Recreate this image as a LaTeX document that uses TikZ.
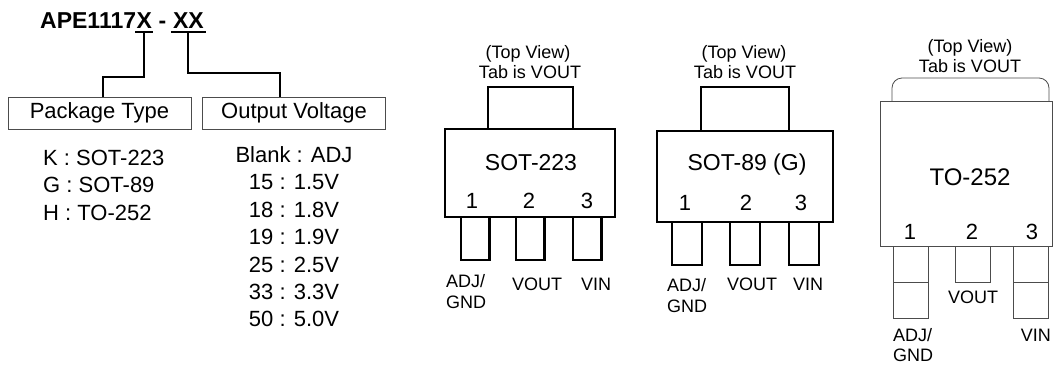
\documentclass[tikz,border=0pt]{standalone}
\usepackage{fontspec}
\setmainfont{Liberation Sans}
\usetikzlibrary{positioning}

\tikzset{
  ttl/.style={font=\bfseries\fontsize{23}{26}\selectfont, inner xsep=0pt, inner ysep=4pt, anchor=base west},
  conn/.style={line width=2pt},
  typebox/.style={draw=black!70, line width=0.8pt, minimum width=183pt, minimum height=32pt,
    inner sep=0pt, font=\fontsize{22}{26}\selectfont},
  lst/.style={font=\fontsize{22}{26}\selectfont, inner sep=0pt},
  pkg/.style={line width=2.5pt},
  thinpkg/.style={draw=black!70, line width=0.8pt},
  hdr/.style={font=\fontsize{18}{20}\selectfont, inner sep=0pt, anchor=base},
  pinlbl/.style={font=\fontsize{18}{21}\selectfont, inner sep=0pt},
  pinnum/.style={font=\fontsize{22}{24}\selectfont, inner sep=0pt, anchor=base},
  pkgname/.style={font=\fontsize{23}{28}\selectfont, inner sep=0pt},
}

\begin{document}
\begin{tikzpicture}[x=1pt, y=-1pt, line cap=butt, line join=miter]

\useasboundingbox (0,0) rectangle (1053,365);

% --- Part number ---
\node[ttl] (apn) at (40,28) {APE1117};
\node[ttl] (pkgX) at (apn.base east) {X};
\node[ttl] (dash) at (pkgX.base east) {\ -\ \null};
\node[ttl] (volX) at (dash.base east) {XX};

\draw[conn] ([xshift=-1pt]pkgX.south west) -- ([xshift=1pt]pkgX.south east);
\draw[conn] ([xshift=-2pt]volX.south west) -- ([xshift=2pt]volX.south east);

% --- Option boxes ---
\node[typebox] (pkgbox) at (99.5,113) {Package Type};
\node[typebox] (volbox) at (294,113) {Output Voltage};

\draw[conn] (pkgX.south) -- ++(0,45) -| ([xshift=3.5pt]pkgbox.north);
\draw[conn] (volX.south) -- ++(0,41) -| ([xshift=-14pt]volbox.north);

% --- Option lists ---
\foreach \txt [count=\i from 0] in {K : SOT-223, G : SOT-89, H : TO-252}
  \node[lst, anchor=base west] (pk\i) at (43,165+27.5*\i) {\txt};

\foreach \txt [count=\i from 0] in {Blank : ADJ, 15 : 1.5V, 18 : 1.8V, 19 : 1.9V,
    25 : 2.5V, 33 : 3.3V, 50 : 5.0V}
  \node[lst, anchor=base] (vo\i) at (294,162.5+27.4*\i) {\txt};

% --- SOT-223 ---
\node[hdr] (satop) at (528,58) {(Top View)};
\node[hdr] (satab) at (530,78) {Tab is VOUT};
\draw[pkg] (488,87) rectangle (573,129);   % tab
\draw[pkg] (445,129) rectangle (615,217);  % body
\foreach \xa in {461,516,573}
  \draw[pkg] (\xa,217) rectangle ++(28.5,43);
\node[pkgname] (saname) at (531,163) {SOT-223};
\foreach \xn/\n in {472/1,529/2,587/3}
  \node[pinnum] (san\n) at (\xn,208) {\n};
\node[pinlbl, anchor=base west] (saadj) at (446,287) {ADJ/};
\node[pinlbl, anchor=base west] (sagnd) at (446,308) {GND};
\node[pinlbl, anchor=base] (savout) at (537,290) {VOUT};
\node[pinlbl, anchor=base] (savin) at (596,290) {VIN};

% --- SOT-89 ---
\node[hdr] (sbtop) at (744,58) {(Top View)};
\node[hdr] (sbtab) at (745,78) {Tab is VOUT};
\draw[pkg] (701,87) rectangle (789,131);   % tab
\draw[pkg] (657,131) rectangle (833,222);  % body
\foreach \xa in {672,730,789}
  \draw[pkg] (\xa,222) rectangle ++(30,43);
\node[pkgname] (sbname) at (747,165) {SOT-89 (G)};
\foreach \xn/\n in {685/1,746/2,801/3}
  \node[pinnum] (sbn\n) at (\xn,210) {\n};
\node[pinlbl, anchor=base west] (sbadj) at (667,291) {ADJ/};
\node[pinlbl, anchor=base west] (sbgnd) at (667,312) {GND};
\node[pinlbl, anchor=base] (sbvout) at (752,290) {VOUT};
\node[pinlbl, anchor=base] (sbvin) at (808,290) {VIN};

% --- TO-252 ---
\node[hdr] (tctop) at (970,52) {(Top View)};
\node[hdr] (tctab) at (970,72) {Tab is VOUT};
\draw[thinpkg, rounded corners=10pt] (892,101) -- (892,78) -- (1049,78) -- (1049,101);
\draw[thinpkg] (880,101) rectangle (1052,246);
\draw[thinpkg] (893,246) rectangle (928,318) (893,282) -- (928,282);
\draw[thinpkg] (955,246) rectangle (990,282);
\draw[thinpkg] (1013,246) rectangle (1048,318) (1013,282) -- (1048,282);
\node[pkgname, font=\fontsize{24}{28}\selectfont] (tcname) at (970,177) {TO-252};
\foreach \xn/\n in {910/1,972/2,1032/3}
  \node[pinnum] (tcn\n) at (\xn,239) {\n};
\node[pinlbl, anchor=base west] (tcadj) at (893,341) {ADJ/};
\node[pinlbl, anchor=base west] (tcgnd) at (893,361) {GND};
\node[pinlbl, anchor=base] (tcvout) at (973,303) {VOUT};
\node[pinlbl, anchor=base east] (tcvin) at (1051,341) {VIN};

\end{tikzpicture}
\end{document}
